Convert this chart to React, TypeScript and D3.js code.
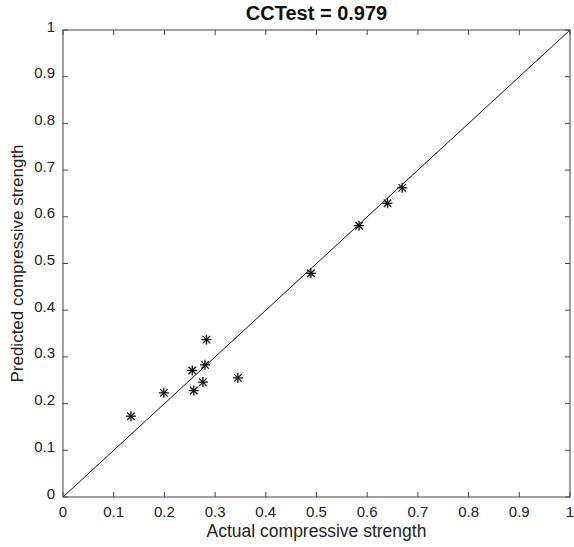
import React from "react";
import * as d3 from "d3";

const actual = [0.134, 0.199, 0.255, 0.258, 0.276, 0.28, 0.283, 0.345, 0.489, 0.584, 0.64, 0.669];
const predicted = [0.173, 0.223, 0.271, 0.228, 0.246, 0.283, 0.337, 0.255, 0.479, 0.581, 0.629, 0.662];
const ticks = [0, 0.1, 0.2, 0.3, 0.4, 0.5, 0.6, 0.7, 0.8, 0.9, 1];
const title = "CCTest = 0.979";

const W = 574;
const H = 547;
const m = { left: 63, right: 4, top: 30, bottom: 50 };

export default function App() {
  const x = d3.scaleLinear().domain([0, 1]).range([m.left, W - m.right]);
  const y = d3.scaleLinear().domain([0, 1]).range([H - m.bottom, m.top]);
  const font = "'Liberation Sans', Arial, Helvetica, sans-serif";
  const axisColor = "#444";
  const tl = 5;
  const r = 5;

  // asterisk marker: + and x
  const star = (cx: number, cy: number, i: number) => {
    const d = r * 0.75;
    return (
      <g key={i} stroke="#111" strokeWidth={1.3}>
        <line x1={cx - r} y1={cy} x2={cx + r} y2={cy} />
        <line x1={cx} y1={cy - r} x2={cx} y2={cy + r} />
        <line x1={cx - d} y1={cy - d} x2={cx + d} y2={cy + d} />
        <line x1={cx - d} y1={cy + d} x2={cx + d} y2={cy - d} />
      </g>
    );
  };

  return (
    <svg width={W} height={H} style={{ position: "absolute", left: 0, top: 0 }} fontFamily={font}>
      <rect width={W} height={H} fill="#fff" />
      {/* diagonal */}
      <line x1={x(0)} y1={y(0)} x2={x(1)} y2={y(1)} stroke="#111" strokeWidth={1} />
      {/* box */}
      <rect x={x(0)} y={y(1)} width={x(1) - x(0)} height={y(0) - y(1)} fill="none" stroke={axisColor} strokeWidth={1} />
      {ticks.map((t, i) => (
        <g key={"t" + i} stroke={axisColor} strokeWidth={1}>
          <line x1={x(t)} y1={y(0)} x2={x(t)} y2={y(0) - tl} />
          <line x1={x(t)} y1={y(1)} x2={x(t)} y2={y(1) + tl} />
          <line x1={x(0)} y1={y(t)} x2={x(0) + tl} y2={y(t)} />
          <line x1={x(1)} y1={y(t)} x2={x(1) - tl} y2={y(t)} />
        </g>
      ))}
      {ticks.map((t, i) => (
        <text key={"xl" + i} x={x(t)} y={y(0) + 20} textAnchor="middle" fontSize={15} fill="#222">
          {d3.format("~g")(t)}
        </text>
      ))}
      {ticks.map((t, i) => (
        <text key={"yl" + i} x={x(0) - 8} y={y(t) + 1.5} textAnchor="end" fontSize={15} fill="#222">
          {d3.format("~g")(t)}
        </text>
      ))}
      {actual.map((a, i) => star(x(a), y(predicted[i]), i))}
      <text x={(x(0) + x(1)) / 2} y={y(0) + 40} textAnchor="middle" fontSize={17.5} fill="#222">
        Actual compressive strength
      </text>
      <text
        transform={`translate(23,${(y(0) + y(1)) / 2}) rotate(-90)`}
        textAnchor="middle"
        fontSize={17}
        fill="#222"
      >
        Predicted compressive strength
      </text>
      <text x={(x(0) + x(1)) / 2} y={y(1) - 10} textAnchor="middle" fontSize={20} fontWeight="bold" fill="#111">
        {title}
      </text>
    </svg>
  );
}
